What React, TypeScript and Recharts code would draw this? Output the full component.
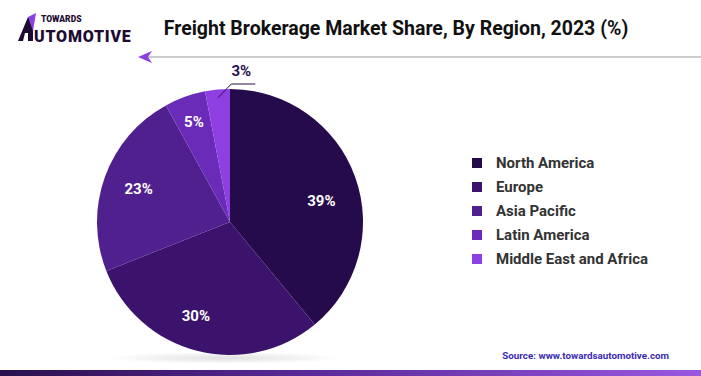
import React from "react"
import { PieChart, Pie, Cell, Legend } from "recharts"

const regions = ["North America", "Europe", "Asia Pacific", "Latin America", "Middle East and Africa"]
const shares = [39, 30, 23, 5, 3]
const COLORS = ["#260b4c", "#3b136c", "#51208f", "#6a2bb9", "#8d3fe2"]

const data = regions.map((name, i) => ({ name, value: shares[i] }))

const RAD = Math.PI / 180
const FONT = "Roboto, 'Liberation Sans', Arial, sans-serif"

const renderLabel = (props: any) => {
  const { cx, cy, midAngle, outerRadius, index, value } = props
  const cos = Math.cos(-midAngle * RAD)
  const sin = Math.sin(-midAngle * RAD)
  if (index === 4) {
    // small slice: leader line out to the top
    const sx = cx + (outerRadius - 8) * cos
    const sy = cy + (outerRadius - 8) * sin
    const mx = sx + 13
    const my = cy - outerRadius - 5
    return (
      <g>
        <polyline points={`${sx},${sy} ${mx},${my} ${mx + 24},${my}`} fill="none" stroke="#2a0f4f" strokeWidth={1} />
        <text x={mx + 10} y={my - 8} textAnchor="middle" fill="#2a0f4f" fontSize={15} fontWeight={700} fontFamily={FONT}>
          {`${value}%`}
        </text>
      </g>
    )
  }
  const r = index === 3 ? outerRadius * 0.8 : outerRadius * 0.73
  let x = cx + r * cos
  let y = cy + r * sin
  if (index === 0) y += 12
  if (index === 1) x -= 10
  return (
    <text x={x} y={y} textAnchor="middle" dominantBaseline="central" fill="#ffffff" fontSize={15} fontWeight={700} fontFamily={FONT}>
      {`${value}%`}
    </text>
  )
}

const LegendContent = () => (
  <div style={{ fontFamily: FONT }}>
    {data.map((d, i) => (
      <div key={d.name} style={{ display: "flex", alignItems: "center", height: 24 }}>
        <span style={{ width: 10, height: 10, background: COLORS[i], marginRight: 14, display: "inline-block" }} />
        <span style={{ fontSize: 15, fontWeight: 700, color: "#333333" }}>{d.name}</span>
      </div>
    ))}
  </div>
)

export default function App() {
  return (
    <div style={{ position: "relative", width: 701, height: 376, background: "#fff", overflow: "hidden" }}>
      <style>{`body{margin:0}`}</style>
      <svg width={701} height={376} style={{ position: "absolute", left: 0, top: 0 }}>
        <defs>
          <linearGradient id="bar" x1="0" y1="0" x2="1" y2="0">
            <stop offset="0%" stopColor="#2a0f4c" />
            <stop offset="45%" stopColor="#5a2a9a" />
            <stop offset="100%" stopColor="#9b57e0" />
          </linearGradient>
          <radialGradient id="shadow" cx="0.5" cy="0.5" r="0.5">
            <stop offset="0%" stopColor="#000" stopOpacity={0.12} />
            <stop offset="100%" stopColor="#000" stopOpacity={0} />
          </radialGradient>
        </defs>
        {/* logo */}
        <polygon points="18,41 28,17 33,17 33,41 28,41 28,33 25,33 23,41" fill="#1d0b33" />
        <polygon points="28,17 36,13 33,31" fill="#8d3fe2" />
        <text x={41} y={22} fontSize={8.5} fontWeight={900} fill="#1d0b33" fontFamily={FONT}>TOWARDS</text>
        <text x={34} y={42} fontSize={16} fontWeight={900} fill="#1d0b33" fontFamily={FONT} letterSpacing={0.8}>UTOMOTIVE</text>
        {/* title */}
        <text x={396} y={35} textAnchor="middle" fontSize={19.5} fontWeight={700} fill="#111" fontFamily={FONT}>
          Freight Brokerage Market Share, By Region, 2023 (%)
        </text>
        <line x1={146} y1={57} x2={701} y2={57} stroke="#999" strokeWidth={1.2} />
        <polygon points="138,57 152,51 148,57 152,63" fill="#8d3fe2" />
        <ellipse cx={225} cy={358} rx={120} ry={6} fill="url(#shadow)" />
        <text x={669} y={359} textAnchor="end" fontSize={9.8} fontWeight={700} fill="#3a2bb5" fontFamily={FONT}>
          Source: www.towardsautomotive.com
        </text>
        <rect x={0} y={370} width={701} height={6} fill="url(#bar)" />
      </svg>
      <div style={{ position: "absolute", left: 0, top: 0 }}>
        <PieChart width={701} height={376} margin={{ top: 0, right: 0, bottom: 0, left: 0 }}>
          <Pie
            data={data}
            dataKey="value"
            nameKey="name"
            cx={230}
            cy={222}
            outerRadius={133}
            startAngle={90}
            endAngle={-270}
            stroke="none"
            label={renderLabel}
            labelLine={false}
            isAnimationActive={false}
          >
            {data.map((d, i) => (
              <Cell key={`cell-${i}`} fill={COLORS[i]} />
            ))}
          </Pie>
          <Legend
            layout="vertical"
            content={<LegendContent />}
            wrapperStyle={{ left: 472, top: 151, width: 220 }}
          />
        </PieChart>
      </div>
    </div>
  )
}
